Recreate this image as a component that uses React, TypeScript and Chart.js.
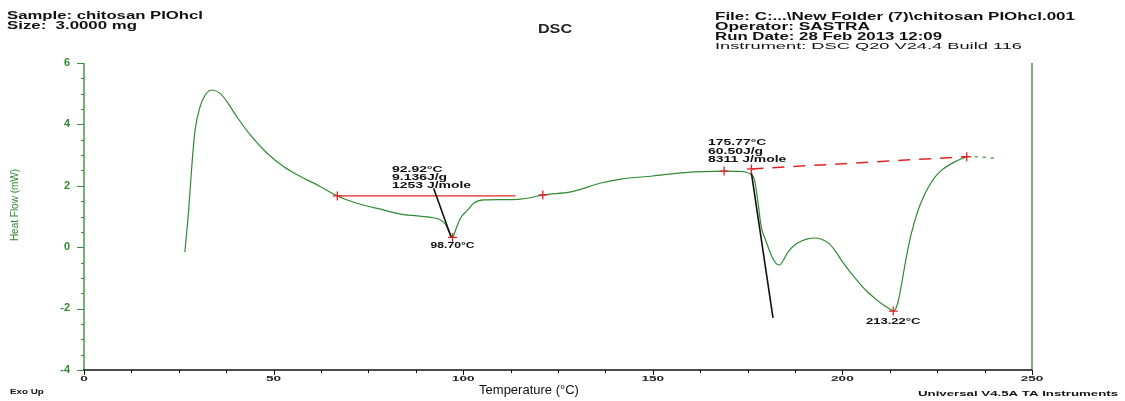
import React, { useEffect, useRef } from "react";
import { Chart, registerables } from "chart.js";

Chart.register(...registerables);

// ---- Data ----
const tempC = [
  26.6, 27.6, 28.5, 29.3, 30.6, 32.0, 33.7, 35.9, 37.7, 40.3, 43.9, 48.3, 52.7, 57.1, 61.5, 66.8,
  72.0, 79.1, 83.5, 88.0, 91.5, 93.8, 95.3, 96.3, 97.2, 98.0, 99.3, 101.2, 102.8, 105.4, 110.0,
  114.4, 118.0, 121.0, 128.4, 136.3, 141.6, 150.0, 157.5, 163.0, 168.8, 172.5, 174.6, 175.8,
  176.8, 177.7, 178.6, 179.7, 180.7, 181.8, 182.7, 183.4, 184.3, 185.7, 187.5, 189.2, 191.0,
  192.6, 194.5, 196.3, 198.0, 199.7, 202.0, 204.2, 206.3, 208.5, 211.0, 212.6, 213.4, 214.1,
  214.8, 215.6, 216.4, 217.3, 218.2, 220.0, 221.3, 222.7, 224.4, 226.2, 229.6, 232.8,
];
const heatFlow = [
  -0.16, 1.21, 2.75, 3.82, 4.57, 4.96, 5.12, 5.01, 4.74, 4.25, 3.65, 3.06, 2.62, 2.30, 2.03, 1.67,
  1.43, 1.21, 1.08, 1.02, 0.97, 0.9, 0.75, 0.5, 0.32, 0.56, 0.95, 1.21, 1.44, 1.54, 1.55,
  1.56, 1.62, 1.70, 1.80, 2.09, 2.22, 2.32, 2.42, 2.46, 2.48, 2.47, 2.44, 2.38,
  2.2, 1.5, 0.66, 0.25, -0.09, -0.4, -0.55, -0.58, -0.45, -0.15, 0.08, 0.2, 0.28,
  0.30, 0.26, 0.14, -0.1, -0.42, -0.8, -1.13, -1.42, -1.66, -1.9, -2.02, -2.08, -2.0,
  -1.72, -1.2, -0.64, -0.05, 0.46, 1.21, 1.62, 1.96, 2.28, 2.51, 2.78, 2.95,
];
const tailTemp = [232.8, 236.5, 240.0];
const tailHeat = [2.95, 2.94, 2.9];

const baseline1Temp = [66.8, 113.8];
const baseline1Heat = [1.67, 1.67];
const baseline2Temp = [176.0, 232.8];
const baseline2Heat = [2.55, 2.95];
const tangent1Temp = [92.2, 96.9];
const tangent1Heat = [1.92, 0.3];
const tangent2Temp = [176.0, 181.7];
const tangent2Heat = [2.42, -2.3];
const markerTemp = [66.8, 121.0, 97.2, 168.8, 176.0, 213.4, 232.8];
const markerHeat = [1.67, 1.7, 0.32, 2.48, 2.55, -2.08, 2.95];

const xTickValues = [0, 50, 100, 150, 200, 250];
const yTickValues = [6, 4, 2, 0, -2, -4];

const peak1Lines = ["92.92°C", "9.136J/g", "1253 J/mole"];
const peak2Lines = ["175.77°C", "60.50J/g", "8311 J/mole"];
const peak1MinLabel = "98.70°C";
const peak2MinLabel = "213.22°C";

const headerLeft = ["Sample: chitosan PIOhcl", "Size:  3.0000 mg"];
const headerRight = [
  "File: C:...\\New Folder (7)\\chitosan PIOhcl.001",
  "Operator: SASTRA",
  "Run Date: 28 Feb 2013 12:09",
  "Instrument: DSC Q20 V24.4 Build 116",
];

const GREEN = "#2f8a32";
const AXIS_GREEN = "#3d8f3d";
const RED = "#e02424";
const FONT = "'Liberation Sans', Arial, sans-serif";

const toPts = (xs: number[], ys: number[]) => xs.map((x, i) => ({ x, y: ys[i] }));

function drawText(
  ctx: CanvasRenderingContext2D,
  text: string,
  x: number,
  y: number,
  o: { font: string; color: string; sx?: number; width?: number; align?: CanvasTextAlign; rotate?: number }
) {
  ctx.save();
  ctx.font = o.font;
  ctx.fillStyle = o.color;
  ctx.textBaseline = "middle";
  ctx.textAlign = o.align ?? "left";
  let sx = o.sx ?? 1;
  if (o.width) sx = o.width / ctx.measureText(text).width;
  ctx.translate(x, y);
  if (o.rotate) ctx.rotate(o.rotate);
  ctx.scale(sx, 1);
  ctx.fillText(text, 0, 0);
  ctx.restore();
}

const decorPlugin = {
  id: "decor",
  afterDraw(chart: any) {
    const ctx: CanvasRenderingContext2D = chart.ctx;
    const xs = chart.scales.x;
    const ys = chart.scales.y;
    const a = chart.chartArea;
    ctx.save();
    // axes lines
    ctx.lineWidth = 1.4;
    ctx.strokeStyle = AXIS_GREEN;
    ctx.beginPath();
    ctx.moveTo(a.left, a.top);
    ctx.lineTo(a.left, a.bottom);
    ctx.moveTo(a.right, a.top);
    ctx.lineTo(a.right, a.bottom);
    ctx.stroke();
    ctx.strokeStyle = "#111";
    ctx.beginPath();
    ctx.moveTo(a.left - 1, a.bottom);
    ctx.lineTo(a.right, a.bottom);
    ctx.stroke();

    // y ticks
    ctx.strokeStyle = AXIS_GREEN;
    ctx.lineWidth = 1;
    ctx.beginPath();
    for (let v = -4; v <= 6.001; v += 0.5) {
      const py = Math.round(ys.getPixelForValue(v)) + 0.5;
      const major = Math.abs(v % 2) < 1e-6;
      ctx.moveTo(a.left - (major ? 7 : 3), py);
      ctx.lineTo(a.left, py);
    }
    ctx.stroke();
    yTickValues.forEach((v) => {
      drawText(ctx, String(v), a.left - 14, ys.getPixelForValue(v), {
        font: `bold 10px ${FONT}`,
        color: GREEN,
        align: "right",
        sx: 1.1,
      });
    });

    // x ticks
    ctx.strokeStyle = "#111";
    ctx.beginPath();
    for (let v = 0; v <= 250.001; v += 12.5) {
      const px = Math.round(xs.getPixelForValue(v)) + 0.5;
      const major = Math.abs(v % 50) < 1e-6;
      ctx.moveTo(px, a.bottom);
      ctx.lineTo(px, a.bottom + (major ? 5 : 3));
    }
    ctx.stroke();
    xTickValues.forEach((v) => {
      drawText(ctx, String(v), xs.getPixelForValue(v), a.bottom + 9, {
        font: `bold 8px ${FONT}`,
        color: "#222",
        align: "center",
        sx: 1.7,
      });
    });

    // axis titles
    drawText(ctx, "Temperature (°C)", 529, 390, { font: `13px ${FONT}`, color: "#111", align: "center" });
    drawText(ctx, "Heat Flow (mW)", 15, 205, {
      font: `10px ${FONT}`,
      color: GREEN,
      align: "center",
      rotate: -Math.PI / 2,
    });
    drawText(ctx, "Exo Up", 10, 392, { font: `bold 7px ${FONT}`, color: "#111", sx: 1.4 });
    drawText(ctx, "Universal V4.5A TA Instruments", 918, 394, {
      font: `bold 8px ${FONT}`,
      color: "#111",
      width: 200,
    });

    // header
    const hf = `bold 10px ${FONT}`;
    drawText(ctx, headerLeft[0], 7, 16, { font: hf, color: "#111", width: 196 });
    drawText(ctx, headerLeft[1], 7, 26, { font: hf, color: "#111", width: 130 });
    const rw = [360, 155, 227, 307];
    headerRight.forEach((t, i) =>
      drawText(ctx, t, 715, 17 + i * 10, { font: i === 3 ? `9px ${FONT}` : hf, color: "#111", width: rw[i] })
    );
    drawText(ctx, "DSC", 555, 30, { font: `bold 12px ${FONT}`, color: "#222", align: "center", sx: 1.35 });

    // peak annotations
    const lf = `bold 9px ${FONT}`;
    peak1Lines.forEach((t, i) =>
      drawText(ctx, t, 392, 170 + i * 8, { font: lf, color: "#111", sx: 1.55 })
    );
    peak2Lines.forEach((t, i) =>
      drawText(ctx, t, 708, 143 + i * 8.5, { font: lf, color: "#111", sx: 1.55 })
    );
    drawText(ctx, peak1MinLabel, xs.getPixelForValue(97.2), 246, {
      font: lf,
      color: "#111",
      align: "center",
      sx: 1.35,
    });
    drawText(ctx, peak2MinLabel, xs.getPixelForValue(213.4), 322, {
      font: lf,
      color: "#111",
      align: "center",
      sx: 1.45,
    });
    ctx.restore();
  },
};

export default function App() {
  const ref = useRef<HTMLCanvasElement | null>(null);

  useEffect(() => {
    if (!ref.current) return;
    const chart = new Chart(ref.current, {
      type: "scatter",
      data: {
        datasets: [
          {
            data: toPts(markerTemp, markerHeat),
            showLine: false,
            pointStyle: "cross",
            pointRadius: 4.5,
            borderColor: RED,
            borderWidth: 1.3,
          } as any,
          {
            data: toPts(tangent1Temp, tangent1Heat),
            showLine: true,
            borderColor: "#111",
            borderWidth: 1.6,
            pointRadius: 0,
          },
          {
            data: toPts(tangent2Temp, tangent2Heat),
            showLine: true,
            borderColor: "#111",
            borderWidth: 1.6,
            pointRadius: 0,
          },
          {
            data: toPts(baseline1Temp, baseline1Heat),
            showLine: true,
            borderColor: RED,
            borderWidth: 1.3,
            pointRadius: 0,
          },
          {
            data: toPts(baseline2Temp, baseline2Heat),
            showLine: true,
            borderColor: RED,
            borderWidth: 1.5,
            borderDash: [12, 9],
            pointRadius: 0,
          },
          {
            data: toPts(tailTemp, tailHeat),
            showLine: true,
            borderColor: GREEN,
            borderWidth: 1.1,
            borderDash: [3, 5],
            pointRadius: 0,
          },
          {
            data: toPts(tempC, heatFlow),
            showLine: true,
            borderColor: GREEN,
            borderWidth: 1.2,
            pointRadius: 0,
            cubicInterpolationMode: "monotone",
          } as any,
        ],
      },
      options: {
        responsive: false,
        animation: false,
        events: [],
        layout: { padding: { left: 0, right: 93, top: 63, bottom: 0 } },
        plugins: { legend: { display: false }, tooltip: { enabled: false }, title: { display: false } },
        scales: {
          x: {
            type: "linear",
            min: 0,
            max: 250,
            ticks: { display: false, stepSize: 50 },
            grid: { display: false },
            border: { display: false },
            afterFit: (s: any) => {
              s.height = 31;
            },
          },
          y: {
            type: "linear",
            min: -4,
            max: 6,
            ticks: { display: false, stepSize: 2 },
            grid: { display: false },
            border: { display: false },
            afterFit: (s: any) => {
              s.width = 84;
            },
          },
        },
      },
      plugins: [decorPlugin],
    });
    return () => chart.destroy();
  }, []);

  return (
    <div style={{ position: "absolute", left: 0, top: 0, width: 1125, height: 401, background: "#fff" }}>
      <canvas ref={ref} width={1125} height={401} style={{ display: "block" }} />
    </div>
  );
}
